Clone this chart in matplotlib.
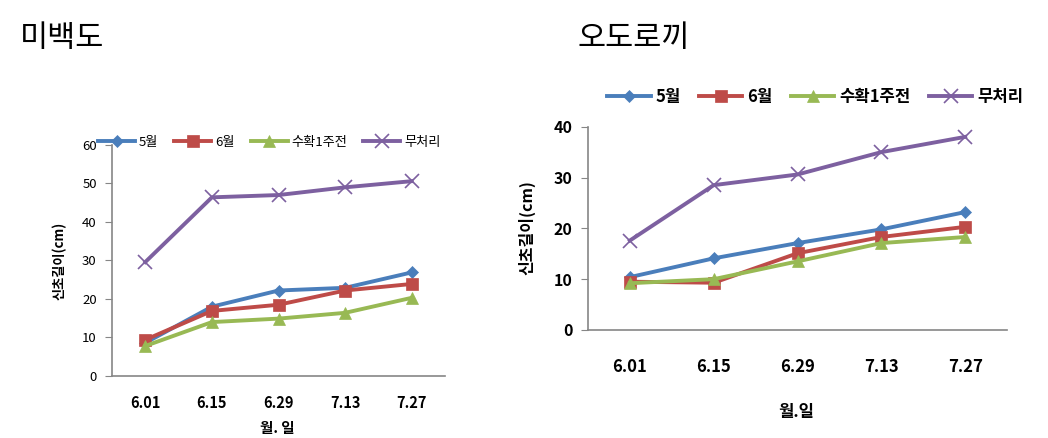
import matplotlib.pyplot as plt
import numpy as np

plt.rcParams['font.family'] = ['Noto Sans CJK KR', 'DejaVu Sans']

# dates (month.day)
dates = ['6.01', '6.15', '6.29', '7.13', '7.27']
series_names = ['5월', '6월', '수확1주전', '무처리']

# 미백도 - shoot length (cm)
mibaek_may = [8.6, 18.0, 22.2, 22.9, 26.9]
mibaek_jun = [9.4, 16.9, 18.5, 22.2, 23.9]
mibaek_pre = [7.8, 14.0, 14.9, 16.4, 20.3]
mibaek_none = [29.6, 46.4, 47.0, 49.0, 50.6]

# 오도로끼 - shoot length (cm)
odo_may = [10.4, 14.1, 17.1, 19.8, 23.2]
odo_jun = [9.5, 9.3, 15.1, 18.3, 20.3]
odo_pre = [9.2, 10.0, 13.5, 17.1, 18.3]
odo_none = [17.6, 28.5, 30.6, 35.0, 38.0]

colors = ['#4A7EBB', '#BE4B48', '#98B954', '#7D60A0']
markers = ['D', 's', '^', 'x']
msizes = [6.5, 9, 9, 10]
axis_gray = '#868686'

fig = plt.figure(figsize=(10.48, 4.38), dpi=100)


def draw(ax, data, ymax, tick_fs, tick_bold, xtick_fs, xpad):
    x = np.arange(len(dates))
    lines = []
    for vals, c, m, ms, name in zip(data, colors, markers, msizes, series_names):
        ln, = ax.plot(x, vals, color=c, lw=2.8, marker=m, markersize=ms,
                      markeredgewidth=1.2 if m == 'x' else 0.5,
                      markeredgecolor=c, label=name)
        lines.append(ln)
    ax.set_xlim(-0.5, len(dates) - 0.5)
    ax.set_ylim(0, ymax)
    ax.set_yticks(np.arange(0, ymax + 1, 10))
    ax.set_xticks(x)
    ax.set_xticklabels(dates, fontsize=xtick_fs, fontweight='bold')
    for s in ['top', 'right']:
        ax.spines[s].set_visible(False)
    for s in ['left', 'bottom']:
        ax.spines[s].set_color(axis_gray)
        ax.spines[s].set_linewidth(1.2)
    ax.tick_params(axis='x', length=0, pad=xpad)
    ax.tick_params(axis='y', length=5, color=axis_gray, pad=6,
                   labelsize=tick_fs)
    if tick_bold:
        for t in ax.get_yticklabels():
            t.set_fontweight('bold')
    return lines


# left chart
ax1 = fig.add_axes([0.1069, 0.1416, 0.3177, 0.5274])
lines1 = draw(ax1, [mibaek_may, mibaek_jun, mibaek_pre, mibaek_none], 60,
              9.5, False, 10.5, 14)
fig.text(0.019, 0.913, '미백도', fontsize=22, fontweight='light', ha='left', va='center')
fig.text(0.057, 0.405, '신초길이(cm)', fontsize=9.5, fontweight='bold',
         rotation=90, ha='center', va='center')
fig.text(0.265, 0.023, '월. 일', fontsize=10.5, fontweight='bold', ha='center', va='center')
fig.legend(lines1, series_names, loc='center', bbox_to_anchor=(0.257, 0.675),
           ncol=4, frameon=False, fontsize=9.5, handlelength=2.8,
           columnspacing=1.2, handletextpad=0.3, borderaxespad=0)

# right chart
ax2 = fig.add_axes([0.561, 0.2466, 0.400, 0.4641])
lines2 = draw(ax2, [odo_may, odo_jun, odo_pre, odo_none], 40,
              11.5, True, 12, 20)
fig.text(0.551, 0.913, '오도로끼', fontsize=22, fontweight='light', ha='left', va='center')
fig.text(0.503, 0.48, '신초길이(cm)', fontsize=11.5, fontweight='bold',
         rotation=90, ha='center', va='center')
fig.text(0.76, 0.06, '월.일', fontsize=12, fontweight='bold', ha='center', va='center')
fig.legend(lines2, series_names, loc='center', bbox_to_anchor=(0.778, 0.779),
           ncol=4, frameon=False, handlelength=2.6,
           columnspacing=1.1, handletextpad=0.3, borderaxespad=0,
           prop={'weight': 'bold', 'size': 12})

fig.savefig('out.png', dpi=100)
